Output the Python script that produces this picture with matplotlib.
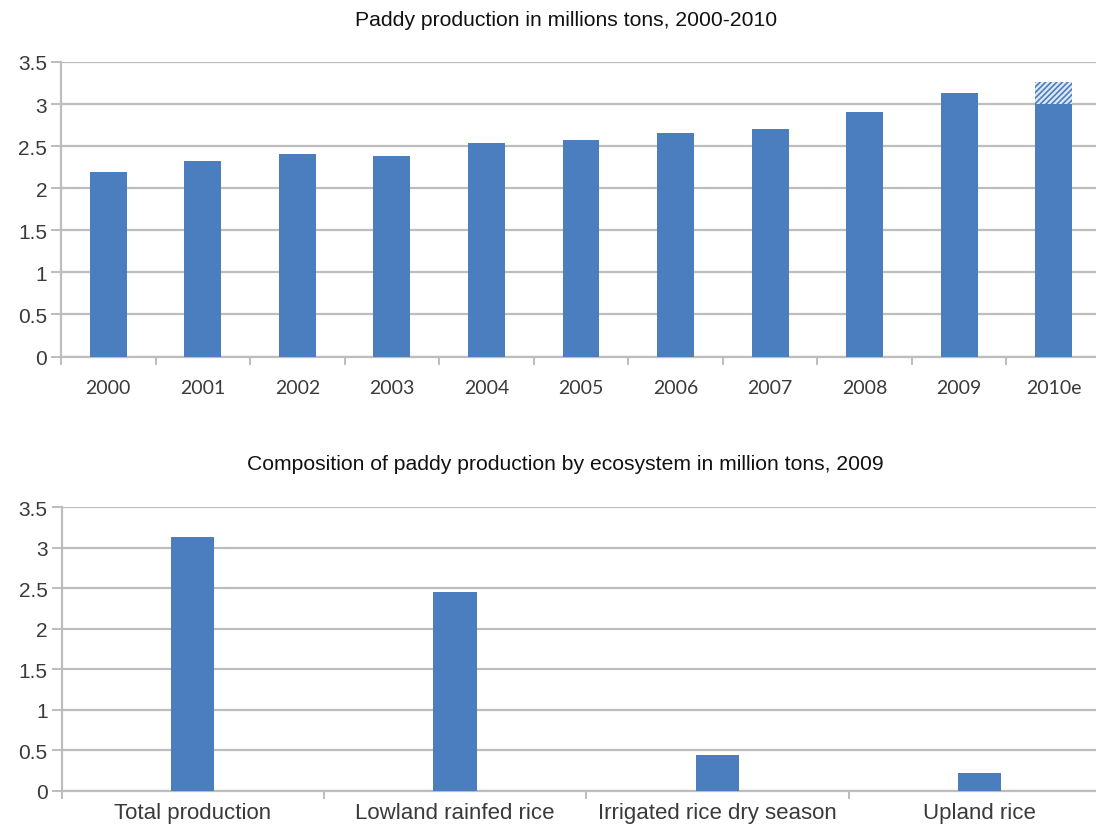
import numpy as np
import matplotlib.pyplot as plt
from matplotlib.ticker import FixedLocator

# paddy production, millions of tons
years = ["2000", "2001", "2002", "2003", "2004", "2005",
         "2006", "2007", "2008", "2009", "2010e"]
production = [2.19, 2.32, 2.41, 2.38, 2.54, 2.57, 2.66, 2.70, 2.91, 3.13, 3.00]
estimate_high = 3.26   # upper end of the 2010 estimate

# composition by ecosystem, 2009
ecosystems = ["Total production", "Lowland rainfed rice",
              "Irrigated rice dry season", "Upland rice"]
eco_values = [3.13, 2.46, 0.445, 0.22]

yticks = [0, 0.5, 1, 1.5, 2, 2.5, 3, 3.5]
ytick_labels = ["0", "0.5", "1", "1.5", "2", "2.5", "3", "3.5"]

bar_color = "#4a7ebf"
grid_color = "#bdbdbd"
text_color = "#3a3a3a"

plt.rcParams['hatch.linewidth'] = 1.2

fig = plt.figure(figsize=(10.96, 8.29), dpi=100)


def style_axes(ax, n):
    ax.set_xlim(-0.5, n - 0.5)
    ax.set_ylim(0, 3.5)
    ax.set_yticks(yticks)
    ax.set_yticklabels(ytick_labels, fontsize=15, color=text_color,
                       family="Liberation Sans")
    ax.yaxis.grid(True, color=grid_color, linewidth=1.6)
    ax.set_axisbelow(True)
    for side in ["top", "right"]:
        ax.spines[side].set_visible(False)
    for side in ["left", "bottom"]:
        ax.spines[side].set_color(grid_color)
        ax.spines[side].set_linewidth(1.6)
    ax.tick_params(axis="y", length=7, width=1.4, color=grid_color, pad=3)
    ax.set_xticks(np.arange(n))
    ax.xaxis.set_minor_locator(FixedLocator(np.arange(n + 1) - 0.5))
    ax.tick_params(axis="x", which="major", length=0, pad=10)
    ax.tick_params(axis="x", which="minor", length=6, width=1.4, color=grid_color)


# top: yearly production
ax = fig.add_axes([61 / 1096, 1 - 357.5 / 829, 1040 / 1096, 294.5 / 829])
x = np.arange(len(years))
ax.bar(x, production, width=0.39, color=bar_color, zorder=3)
ax.bar(x[-1], estimate_high - production[-1], bottom=production[-1], width=0.39,
       facecolor="#dfe8f4", edgecolor=bar_color, hatch="//////", linewidth=0, zorder=3)
style_axes(ax, len(years))
ax.set_xticklabels(years, fontsize=14, color=text_color, family="Lato")
ax.tick_params(axis="x", which="major", pad=16)
fig.text(566 / 1096, 1 - 20 / 829, "Paddy production in millions tons, 2000-2010",
         ha="center", va="center", fontsize=15.2, family="Liberation Sans", color="#111111")

# bottom: composition by ecosystem
ax = fig.add_axes([61.5 / 1096, 1 - 791.7 / 829, 1049.5 / 1096, 283.4 / 829])
x = np.arange(len(ecosystems))
ax.bar(x, eco_values, width=0.165, color=bar_color, zorder=3)
style_axes(ax, len(ecosystems))
ax.set_xticklabels(ecosystems, fontsize=16, color=text_color, family="Liberation Sans")
ax.tick_params(axis="x", which="major", pad=8)
fig.text(565 / 1096, 1 - 465 / 829,
         "Composition of paddy production by ecosystem in million tons, 2009",
         ha="center", va="center", fontsize=15.2, family="Liberation Sans", color="#111111")

fig.savefig("out.png", dpi=100, facecolor="white")
